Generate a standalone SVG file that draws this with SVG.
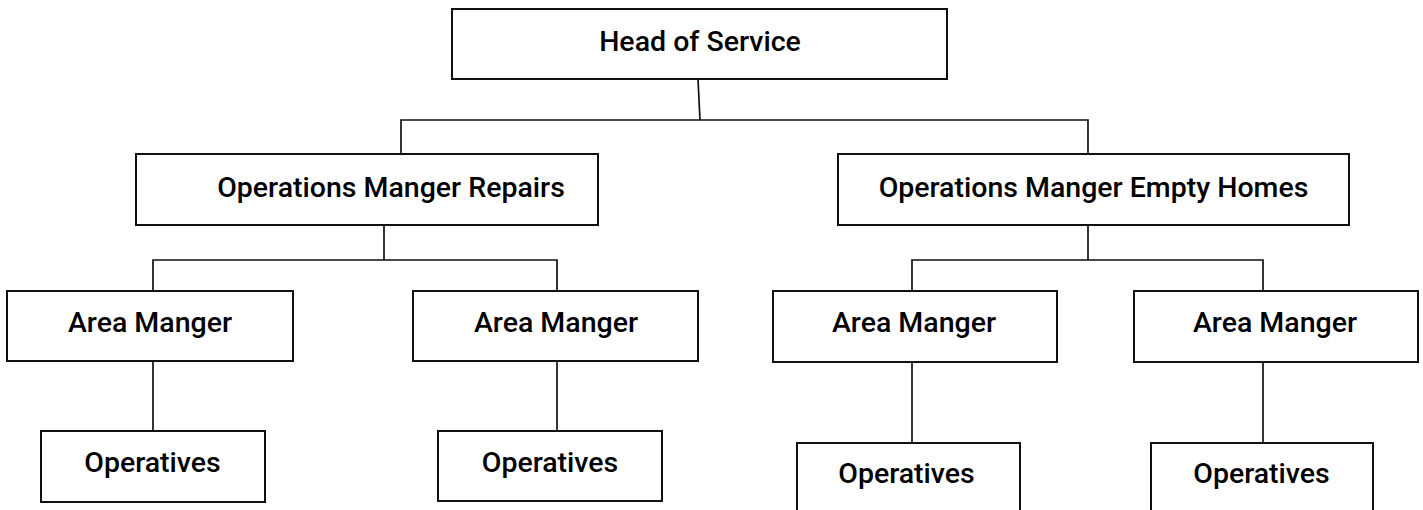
<svg xmlns="http://www.w3.org/2000/svg" width="1423" height="510" viewBox="0 0 1423 510">
<style>
.box{fill:#fff;stroke:#111;stroke-width:2}
.lbl{font-family:Roboto,"Open Sans",sans-serif;font-size:28.5px;font-weight:500;fill:#000;text-anchor:middle}
.con{fill:none;stroke:#111;stroke-width:1.7}
</style>
<rect width="1423" height="510" fill="#fff"/>
<g id="connectors">
<path class="con" d="M698,79 L700,120"/>
<path class="con" d="M401,154 V120 H1088 V154"/>
<path class="con" d="M384,225 V260"/>
<path class="con" d="M153,291 V260 H557 V291"/>
<path class="con" d="M1088,225 V260"/>
<path class="con" d="M912,291 V260 H1263 V291"/>
<path class="con" d="M153,361 V431"/>
<path class="con" d="M557,361 V431"/>
<path class="con" d="M912,362 V443"/>
<path class="con" d="M1263,362 V443"/>
</g>
<g id="head"><rect class="box" x="452" y="9" width="495" height="70"/><text class="lbl" x="700" y="51">Head of Service</text></g>
<g id="ops-repairs"><rect class="box" x="136" y="154" width="462" height="71"/><text class="lbl" x="391" y="197">Operations Manger Repairs</text></g>
<g id="ops-empty"><rect class="box" x="838" y="154" width="511" height="71"/><text class="lbl" x="1093.5" y="197">Operations Manger Empty Homes</text></g>
<g id="area1"><rect class="box" x="7" y="291" width="286" height="70"/><text class="lbl" x="150" y="332">Area Manger</text></g>
<g id="area2"><rect class="box" x="413" y="291" width="285" height="70"/><text class="lbl" x="556" y="332">Area Manger</text></g>
<g id="area3"><rect class="box" x="773" y="291" width="284" height="71"/><text class="lbl" x="914" y="332">Area Manger</text></g>
<g id="area4"><rect class="box" x="1134" y="291" width="284" height="71"/><text class="lbl" x="1275" y="332">Area Manger</text></g>
<g id="op1"><rect class="box" x="41" y="431" width="224" height="71"/><text class="lbl" x="152.5" y="472">Operatives</text></g>
<g id="op2"><rect class="box" x="438" y="431" width="224" height="70"/><text class="lbl" x="550" y="472">Operatives</text></g>
<g id="op3"><rect class="box" x="797" y="443" width="223" height="80"/><text class="lbl" x="906.5" y="483">Operatives</text></g>
<g id="op4"><rect class="box" x="1151" y="443" width="222" height="80"/><text class="lbl" x="1261.5" y="483">Operatives</text></g>
</svg>
